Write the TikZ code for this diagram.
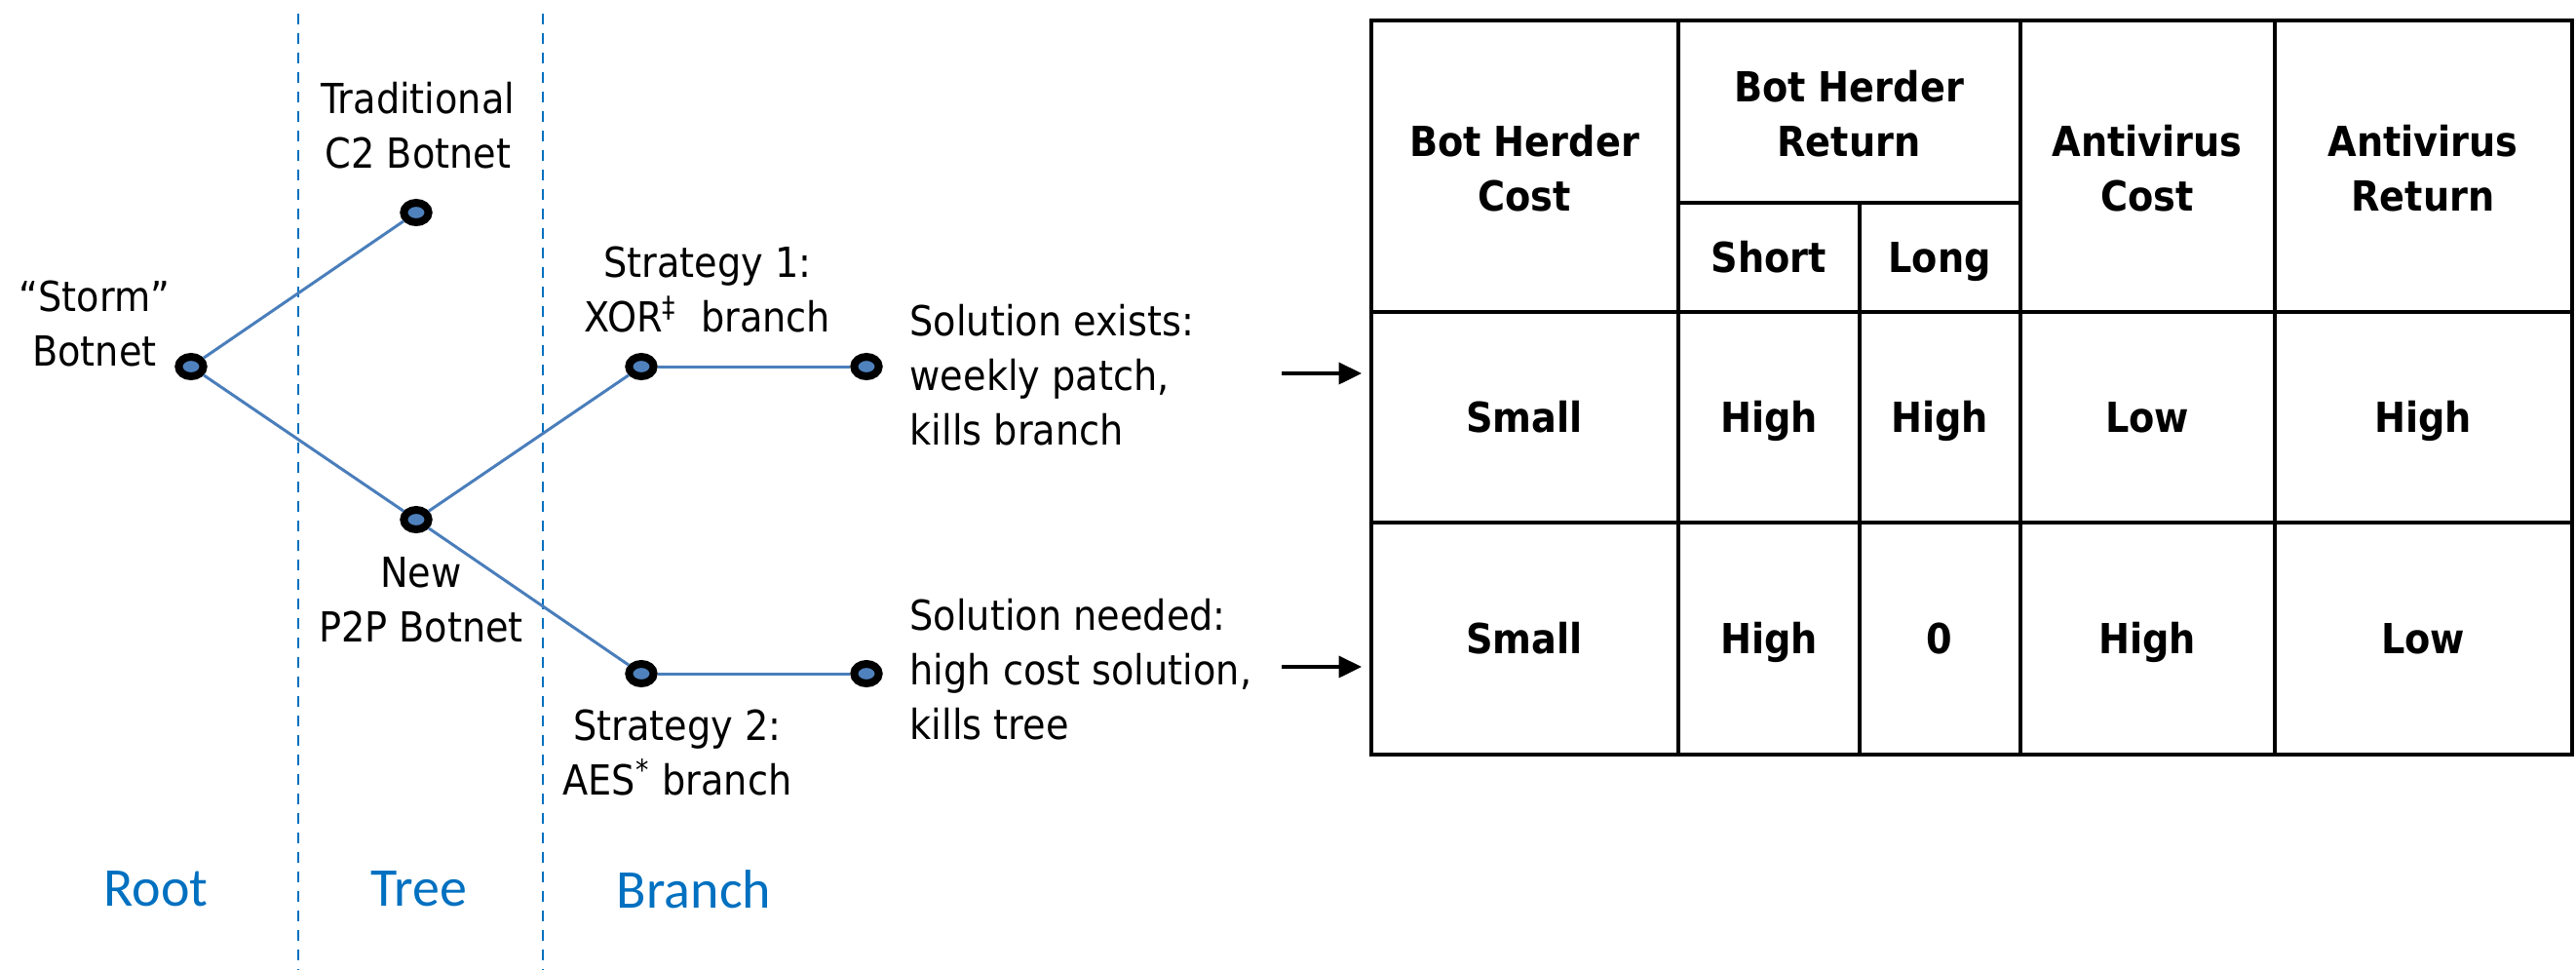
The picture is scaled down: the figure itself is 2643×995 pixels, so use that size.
\documentclass[tikz,border=0pt]{standalone}
\usepackage{fontspec}
\setmainfont{DejaVu Sans Condensed}
\newfontfamily\lblfont{Carlito}
\usetikzlibrary{shapes.geometric,arrows.meta}
\definecolor{edgeblue}{HTML}{4A7EBB}
\definecolor{dotblue}{HTML}{4F81BD}
\definecolor{lblblue}{HTML}{0070C0}
\tikzset{
  every node/.style={font=\fontsize{12.75}{16.8}\selectfont, inner sep=0pt},
  dot/.style={ellipse, draw=black, line width=2.4pt, fill=dotblue, minimum width=7.6pt, minimum height=6pt},
  treeedge/.style={draw=edgeblue, line width=0.9pt},
  divider/.style={draw=lblblue, line width=0.8pt, dash pattern=on 3.4pt off 2.6pt},
  lbl/.style={text=lblblue, font=\lblfont\fontsize{16.8}{20}\selectfont},
  txt/.style={align=center},
  ltxt/.style={align=left, anchor=west},
  cell/.style={align=center, font=\bfseries\fontsize{12.75}{16.8}\selectfont},
  cellone/.style={font=\bfseries\fontsize{12.75}{16.8}\selectfont, text height=9.3pt, text depth=0pt},
  grid/.style={draw=black, line width=1pt},
  pointer/.style={draw=black, line width=1.1pt, -{Triangle[length=7pt,width=6.6pt]}}
}
\begin{document}
\begin{tikzpicture}[x=0.3pt,y=-0.3pt]
\useasboundingbox (0,0) rectangle (2643,995);
% dividers
\coordinate (d1t) at (306,14); \coordinate (d1b) at (306,995);
\coordinate (d2t) at (557,14); \coordinate (d2b) at (557,995);
\draw[divider] (d1t) -- (d1b);
\draw[divider] (d2t) -- (d2b);
% tree nodes
\node[dot] (storm) at (196,376) {};
\node[dot] (trad) at (427,218) {};
\node[dot] (p2p) at (427,533) {};
\node[dot] (s1) at (658,376) {};
\node[dot] (s1end) at (889,376) {};
\node[dot] (s2) at (658,691) {};
\node[dot] (s2end) at (889,691) {};
\draw[treeedge] (storm) -- (trad);
\draw[treeedge] (storm) -- (p2p);
\draw[treeedge] (p2p) -- (s1);
\draw[treeedge] (p2p) -- (s2);
\draw[treeedge] (s1) -- (s1end);
\draw[treeedge] (s2) -- (s2end);
% labels
\node[txt] (tradtxt) at (429,129) {Traditional\\C2 Botnet};
\node[txt] (stormtxt) at (97,332) {“Storm”\\Botnet};
\node[txt] (p2ptxt) at (432,615) {New\\P2P Botnet};
\node[txt] (s1txt) at (726,297) {Strategy 1:\\XOR\textsuperscript{‡}\ \ branch};
\node[txt] (s2txt) at (695,772) {Strategy 2:\\AES\textsuperscript{*} branch};
\node[ltxt] (sol1) at (933,385) {Solution exists:\\weekly patch,\\kills branch};
\node[ltxt] (sol2) at (933,687) {Solution needed:\\high cost solution,\\kills tree};
% bottom labels
\node[lbl] (root) at (160,912) {Root};
\node[lbl] (tree) at (430,912) {Tree};
\node[lbl] (branch) at (712,912) {Branch};
% table
\draw[grid] (1407,21) rectangle (2639,774);
\draw[grid] (1722,21) -- (1722,774);
\draw[grid] (1908,208) -- (1908,774);
\draw[grid] (2073,21) -- (2073,774);
\draw[grid] (2334,21) -- (2334,774);
\draw[grid] (1722,208) -- (2073,208);
\draw[grid] (1407,320) -- (2639,320);
\draw[grid] (1407,536) -- (2639,536);
\node[cell] (h1) at (1564,173) {Bot Herder\\Cost};
\node[cell] (h2) at (1897,117) {Bot Herder\\Return};
\node[cellone] (h2a) at (1815,264) {Short};
\node[cellone] (h2b) at (1990,264) {Long};
\node[cell] (h3) at (2203,173) {Antivirus\\Cost};
\node[cell] (h4) at (2486,173) {Antivirus\\Return};
\node[cellone] (r1a) at (1564,428) {Small};
\node[cellone] (r1b) at (1815,428) {High};
\node[cellone] (r1c) at (1990,428) {High};
\node[cellone] (r1d) at (2203,428) {Low};
\node[cellone] (r1e) at (2486,428) {High};
\node[cellone] (r2a) at (1564,655) {Small};
\node[cellone] (r2b) at (1815,655) {High};
\node[cellone] (r2c) at (1990,655) {0};
\node[cellone] (r2d) at (2203,655) {High};
\node[cellone] (r2e) at (2486,655) {Low};
% arrows
\coordinate (a1s) at (1315,383); \coordinate (a1e) at (1397,383);
\coordinate (a2s) at (1315,684); \coordinate (a2e) at (1397,684);
\draw[pointer] (a1s) -- (a1e);
\draw[pointer] (a2s) -- (a2e);
\end{tikzpicture}
\end{document}
